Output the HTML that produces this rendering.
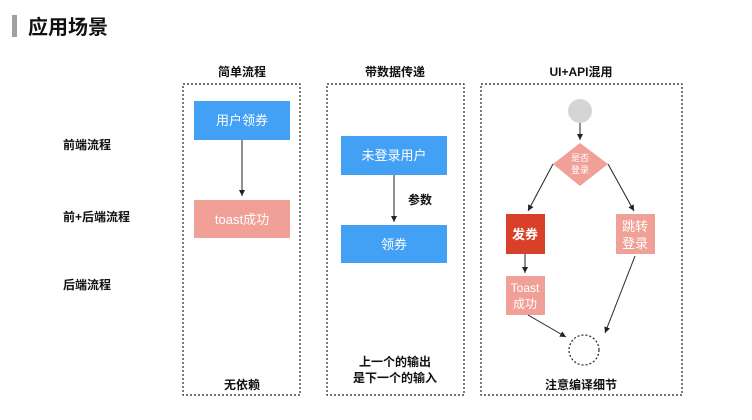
<!DOCTYPE html>
<html><head><meta charset="utf-8"><style>
html,body{margin:0;padding:0;background:#fff}
svg{display:block;font-family:"Liberation Sans","Noto Sans CJK SC",sans-serif}
</style></head><body>
<svg width="752" height="420" viewBox="0 0 752 420" xmlns="http://www.w3.org/2000/svg">
<defs><marker id="a" markerWidth="8" markerHeight="8" refX="6" refY="3" orient="auto"><path d="M0,0 L6,3 L0,6 z" fill="#222"/></marker></defs>
<rect x="12" y="15" width="5" height="22" fill="#a0a0a0"/>
<text x="28" y="34" font-size="20" font-weight="bold" fill="#111">应用场景</text>
<g font-size="12" font-weight="bold" fill="#111">
<text x="63" y="149">前端流程</text>
<text x="63" y="221">前+后端流程</text>
<text x="63" y="289">后端流程</text>
<text x="242" y="76" text-anchor="middle">简单流程</text>
<text x="395" y="76" text-anchor="middle">带数据传递</text>
<text x="581" y="76" text-anchor="middle">UI+API混用</text>
<text x="242" y="389" text-anchor="middle">无依赖</text>
<text x="395" y="366" text-anchor="middle">上一个的输出</text>
<text x="395" y="382" text-anchor="middle">是下一个的输入</text>
<text x="581" y="389" text-anchor="middle">注意编译细节</text>
<text x="408" y="204">参数</text>
</g>
<g fill="none" stroke="#222" stroke-width="1.2" stroke-dasharray="2,2">
<rect x="183" y="84" width="117" height="311"/>
<rect x="327" y="84" width="137" height="311"/>
<rect x="481" y="84" width="201" height="311"/>
<circle cx="584" cy="350" r="15"/>
</g>
<rect x="194" y="101" width="96" height="39" fill="#42a0f5"/>
<rect x="194" y="200" width="96" height="38" fill="#f0a097"/>
<rect x="341" y="136" width="106" height="39" fill="#42a0f5"/>
<rect x="341" y="225" width="106" height="38" fill="#42a0f5"/>
<circle cx="580" cy="111" r="12" fill="#d4d6d6"/>
<polygon points="580,143 608,164 580,186 553,164" fill="#f0a097"/>
<rect x="506" y="214" width="39" height="40" fill="#d9402a"/>
<rect x="616" y="214" width="39" height="40" fill="#f0a097"/>
<rect x="506" y="276" width="39" height="39" fill="#f0a097"/>
<g stroke="#222" stroke-width="1" marker-end="url(#a)">
<line x1="242" y1="140" x2="242" y2="196"/>
<line x1="394" y1="175" x2="394" y2="222"/>
<line x1="580" y1="123" x2="580" y2="140"/>
<line x1="553" y1="164" x2="528" y2="211"/>
<line x1="608" y1="164" x2="634" y2="211"/>
<line x1="525" y1="254" x2="525" y2="273"/>
<line x1="528" y1="315" x2="566" y2="337"/>
<line x1="635" y1="256" x2="605" y2="333"/>
</g>
<g fill="#fff" text-anchor="middle">
<text x="242" y="125" font-size="13">用户领券</text>
<text x="242" y="224" font-size="13">toast成功</text>
<text x="394" y="160" font-size="13">未登录用户</text>
<text x="394" y="249" font-size="13">领券</text>
<text x="580" y="161" font-size="9">是否</text>
<text x="580" y="173" font-size="9">登录</text>
<text x="525" y="239" font-size="13" font-weight="bold">发券</text>
<text x="635" y="231" font-size="13">跳转</text>
<text x="635" y="248" font-size="13">登录</text>
<text x="525" y="292" font-size="12">Toast</text>
<text x="525" y="308" font-size="12">成功</text>
</g>
</svg>
</body></html>
